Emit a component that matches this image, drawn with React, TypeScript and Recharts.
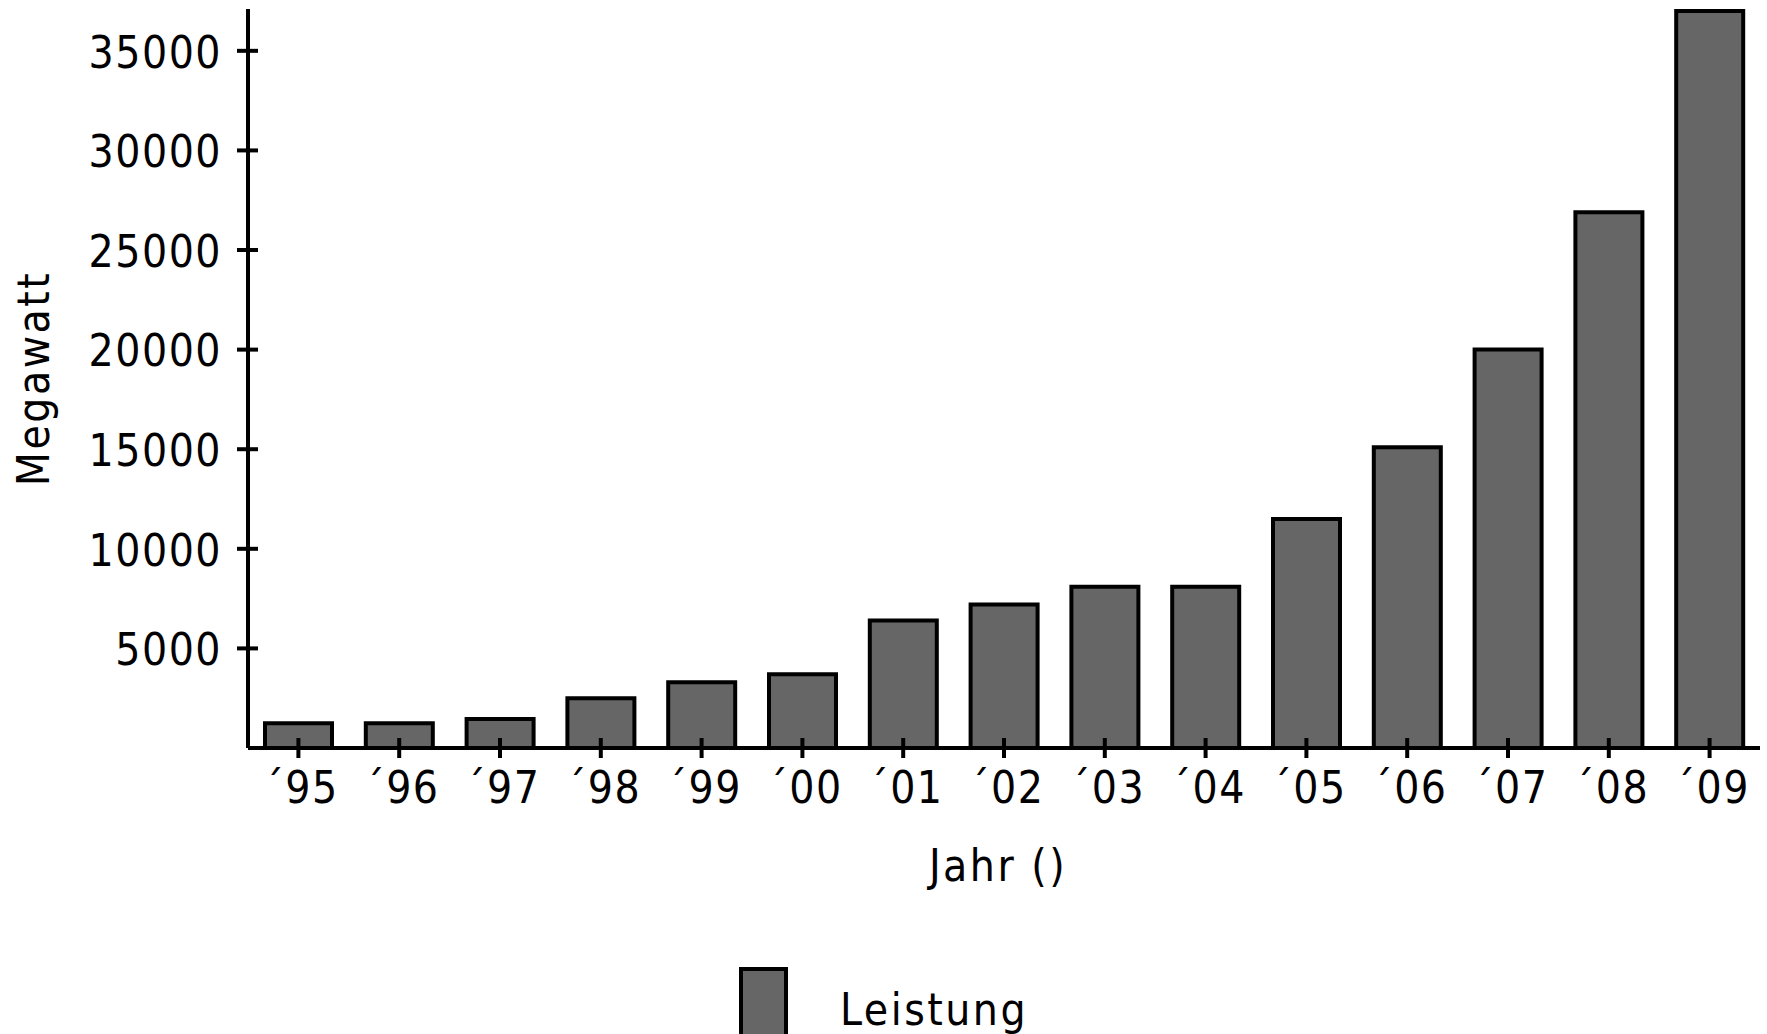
import React from "react";
import { BarChart, Bar, XAxis, YAxis, Legend } from "recharts";

// Installierte Leistung pro Jahr (Megawatt)
const years = ["´95", "´96", "´97", "´98", "´99", "´00", "´01", "´02", "´03", "´04", "´05", "´06", "´07", "´08", "´09"];
const leistung = [1240, 1240, 1450, 2500, 3300, 3700, 6400, 7200, 8100, 8100, 11500, 15100, 20000, 26900, 37000];
const yTicks = [5000, 10000, 15000, 20000, 25000, 30000, 35000];

const data = years.map((jahr, i) => ({ jahr, leistung: leistung[i] }));

const FONT = "'DejaVu Sans Condensed', 'DejaVu Sans', Verdana, sans-serif";
const FONT_SIZE = 44;

// ticks cross the axis line on both sides, so draw them by hand
const XTick = (props: any) => {
  const { x, y, payload } = props;
  return (
    <g>
      <line x1={x} x2={x} y1={y - 10} y2={y + 10} stroke="#000" strokeWidth={4} />
      <text x={x + 3} y={y + 55} textAnchor="middle" letterSpacing={1.5} fontFamily={FONT} fontSize={FONT_SIZE} fill="#000">
        {payload.value}
      </text>
    </g>
  );
};

const YTick = (props: any) => {
  const { x, y, payload } = props;
  return (
    <g>
      <line x1={x - 11} x2={x + 10} y1={y} y2={y} stroke="#000" strokeWidth={4} />
      <text x={x - 26} y={y} dy="0.38em" textAnchor="end" letterSpacing={1.5} fontFamily={FONT} fontSize={FONT_SIZE} fill="#000">
        {payload.value}
      </text>
    </g>
  );
};

const LegendContent = (props: any) => {
  const item = props.payload && props.payload[0];
  return (
    <div style={{ position: "relative", width: 400, height: 67 }}>
      <svg width={400} height={67} style={{ position: "absolute", left: 0, top: 0 }}>
        <rect x={2} y={2} width={45} height={90} fill="#666666" stroke="#000" strokeWidth={4} />
        <text x={101} y={58} letterSpacing={2.5} fontFamily={FONT} fontSize={FONT_SIZE} fill="#000">
          {item ? item.value : "Leistung"}
        </text>
      </svg>
    </div>
  );
};

export default function App() {
  return (
    <div style={{ position: "absolute", left: 0, top: 0, width: 1767, height: 1034, background: "#fff" }}>
      <BarChart width={1767} height={1034} data={data} margin={{ top: 9, right: 7, left: 0, bottom: 0 }}>
        <XAxis
          dataKey="jahr"
          height={286}
          interval={0}
          tickLine={false}
          tickSize={0}
          tickMargin={0}
          axisLine={{ stroke: "#000", strokeWidth: 4 }}
          tick={<XTick />}
          label={{
            content: (p: any) => {
              const vb = p.viewBox;
              return (
                <text x={vb.x + vb.width / 2 - 6} y={vb.y + 133} textAnchor="middle" letterSpacing={2.5} fontFamily={FONT} fontSize={FONT_SIZE} fill="#000">
                  Jahr ()
                </text>
              );
            },
          }}
        />
        <YAxis
          width={248}
          domain={[0, 37100]}
          ticks={yTicks}
          interval={0}
          tickLine={false}
          tickSize={0}
          tickMargin={0}
          axisLine={{ stroke: "#000", strokeWidth: 4 }}
          tick={<YTick />}
          label={{
            content: (p: any) => {
              const vb = p.viewBox;
              const cx = 49;
              const cy = vb.y + vb.height / 2;
              return (
                <text x={cx} y={cy} textAnchor="middle" letterSpacing={2.5} transform={`rotate(-90, ${cx}, ${cy})`} fontFamily={FONT} fontSize={FONT_SIZE} fill="#000">
                  Megawatt
                </text>
              );
            },
          }}
        />
        <Legend
          verticalAlign="middle"
          align="center"
          content={<LegendContent />}
          wrapperStyle={{ top: 967, left: 739, width: 400, height: 67 }}
        />
        <Bar dataKey="leistung" name="Leistung" fill="#666666" stroke="#000" strokeWidth={4} barSize={67} isAnimationActive={false} />
      </BarChart>
    </div>
  );
}
